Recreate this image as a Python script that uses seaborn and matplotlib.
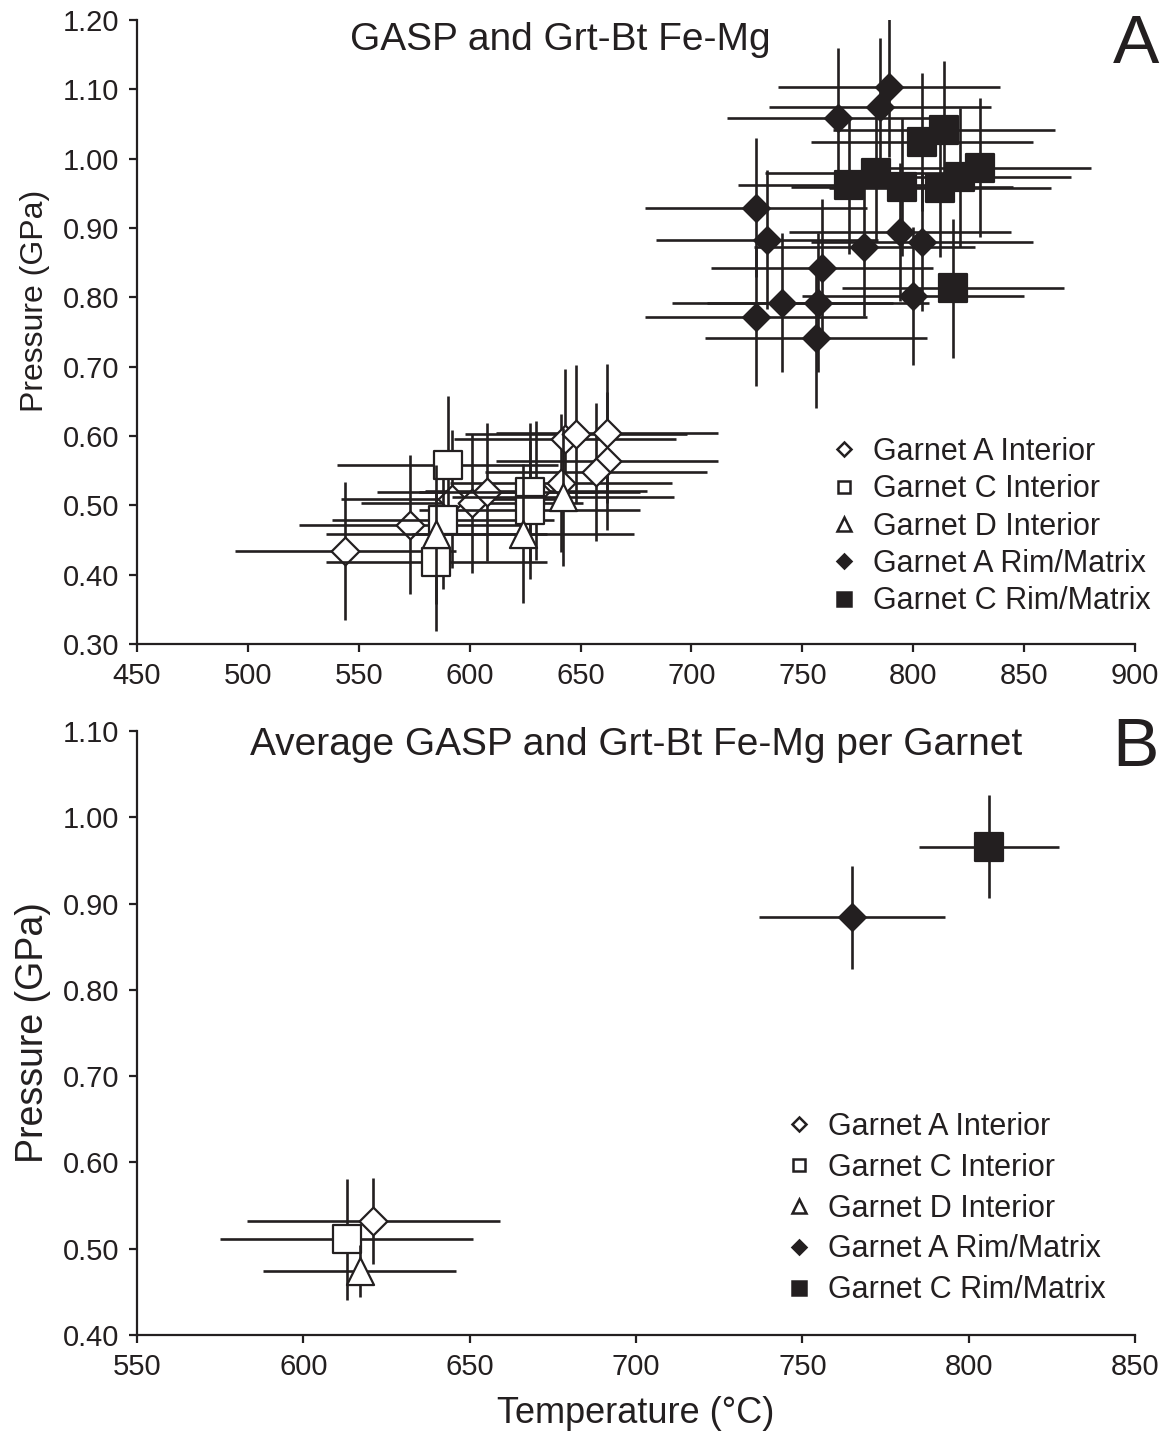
import matplotlib
matplotlib.use("Agg")
import matplotlib.pyplot as plt
from matplotlib.lines import Line2D
import seaborn as sns

# ---- Panel A: individual GASP + Grt-Bt Fe-Mg results (T in degC, P in GPa)
a_int_T = [544, 573, 592, 601, 608, 630, 641, 643, 648, 662, 662, 657]
a_int_P = [0.434, 0.472, 0.509, 0.503, 0.519, 0.521, 0.532, 0.596, 0.603, 0.604, 0.564, 0.548]
c_int_T = [590, 588, 585, 627, 627]
c_int_P = [0.558, 0.479, 0.418, 0.519, 0.493]
d_int_T = [585, 624, 642]
d_int_P = [0.458, 0.459, 0.512]
a_rim_T = [789, 785, 766, 729, 734, 759, 778, 794, 804, 800, 741, 757, 729, 756]
a_rim_P = [1.103, 1.074, 1.059, 0.929, 0.883, 0.842, 0.873, 0.894, 0.880, 0.802,
           0.792, 0.792, 0.772, 0.741]
c_rim_T = [804, 814, 771, 783, 795, 812, 821, 830, 818]
c_rim_P = [1.024, 1.041, 0.962, 0.979, 0.959, 0.958, 0.973, 0.987, 0.813]
T_err_a = 50
P_err_a = 0.10

# ---- Panel B: averages per garnet
avg_labels = ["Garnet A Interior", "Garnet C Interior", "Garnet D Interior",
              "Garnet A Rim/Matrix", "Garnet C Rim/Matrix"]
avg_T = [621, 613, 617, 765, 806]
avg_P = [0.532, 0.511, 0.474, 0.884, 0.966]
avg_T_err = [38, 38, 29, 28, 21]
avg_P_err = [0.05, 0.07, 0.03, 0.06, 0.06]

INK = "#231f20"

sns.set_theme(style="ticks")
plt.rcParams["font.family"] = ["Liberation Sans", "DejaVu Sans"]
plt.rcParams["axes.linewidth"] = 1.6
plt.rcParams["xtick.major.width"] = 1.6
plt.rcParams["ytick.major.width"] = 1.6
plt.rcParams["xtick.major.size"] = 6
plt.rcParams["ytick.major.size"] = 6
plt.rcParams["xtick.color"] = INK
plt.rcParams["ytick.color"] = INK
plt.rcParams["axes.edgecolor"] = INK

# (marker, scatter size, legend size, filled)
styles = [("D", 200, 7.0, False), ("s", 390, 9.0, False), ("^", 380, 9.5, False),
          ("D", 185, 7.0, True), ("s", 395, 9.5, True)]

fig = plt.figure(figsize=(11.65, 14.32), dpi=100)
axA = fig.add_axes([0.1176, 0.5503, 0.8567, 0.4358])
axB = fig.add_axes([0.1176, 0.0677, 0.8567, 0.4218])


def draw(ax, T, P, xerr, yerr, style, z):
    marker, size, _, filled = style
    ax.errorbar(T, P, xerr=xerr, yerr=yerr, fmt="none", ecolor=INK,
                elinewidth=1.9, capsize=0, zorder=z)
    sns.scatterplot(x=T, y=P, marker=marker, s=size,
                    color=INK if filled else "white", edgecolor=INK,
                    linewidth=1.6, zorder=z + 0.5, legend=False, ax=ax)


seriesA = [(a_int_T, a_int_P), (c_int_T, c_int_P), (d_int_T, d_int_P),
           (a_rim_T, a_rim_P), (c_rim_T, c_rim_P)]
for i, (T, P) in enumerate(seriesA):
    draw(axA, T, P, T_err_a, P_err_a, styles[i], 2 + i)

for i in range(len(avg_labels)):
    draw(axB, [avg_T[i]], [avg_P[i]], avg_T_err[i], avg_P_err[i], styles[i], 2 + i)

handles = [Line2D([], [], ls="none", marker=m, ms=ls_, mew=1.8, mec=INK,
                  mfc=INK if f else "white") for m, _, ls_, f in styles]


def finish(ax, xlim, ylim, xstep, ystep, ylab_size):
    ax.set_xlim(*xlim)
    ax.set_ylim(*ylim)
    n = int(round((xlim[1] - xlim[0]) / xstep))
    ax.set_xticks([xlim[0] + k * xstep for k in range(n + 1)])
    m = int(round((ylim[1] - ylim[0]) / ystep))
    yt = [ylim[0] + k * ystep for k in range(m + 1)]
    ax.set_yticks(yt)
    ax.set_yticklabels([f"{v:.2f}" for v in yt])
    ax.tick_params(labelsize=21, pad=7, colors=INK, labelcolor=INK)
    ax.set_ylabel("Pressure (GPa)", fontsize=ylab_size, color=INK, labelpad=8)
    ax.set_xlabel("")
    sns.despine(ax=ax)
    ax.spines["left"].set_color(INK)
    ax.spines["bottom"].set_color(INK)


finish(axA, (450, 900), (0.30, 1.20), 50, 0.10, 23)
finish(axB, (550, 850), (0.40, 1.10), 50, 0.10, 27)
axA.yaxis.set_label_coords(-0.087, 0.55)
axB.set_xlabel("Temperature (\u00b0C)", fontsize=26, color=INK, labelpad=11)

fig.text(0.4807, 0.972, "GASP and Grt-Bt Fe-Mg", fontsize=28, color=INK,
         ha="center", va="center")
fig.text(0.546, 0.4797, "Average GASP and Grt-Bt Fe-Mg per Garnet", fontsize=28,
         color=INK, ha="center", va="center")
fig.text(0.975, 0.9686, "A", fontsize=50, color=INK, ha="center", va="center")
fig.text(0.975, 0.4777, "B", fontsize=50, color=INK, ha="center", va="center")

axA.legend(handles, avg_labels, loc="upper left", bbox_to_anchor=(0.7112, 0.6948),
           bbox_transform=fig.transFigure, frameon=False, fontsize=22,
           handlelength=1.0, handletextpad=0.45, labelspacing=0.24,
           borderpad=0, borderaxespad=0, labelcolor=INK)
axB.legend(handles, avg_labels, loc="upper left", bbox_to_anchor=(0.6725, 0.2235),
           bbox_transform=fig.transFigure, frameon=False, fontsize=22,
           handlelength=1.0, handletextpad=0.45, labelspacing=0.355,
           borderpad=0, borderaxespad=0, labelcolor=INK)

fig.savefig("out.png", dpi=100)
